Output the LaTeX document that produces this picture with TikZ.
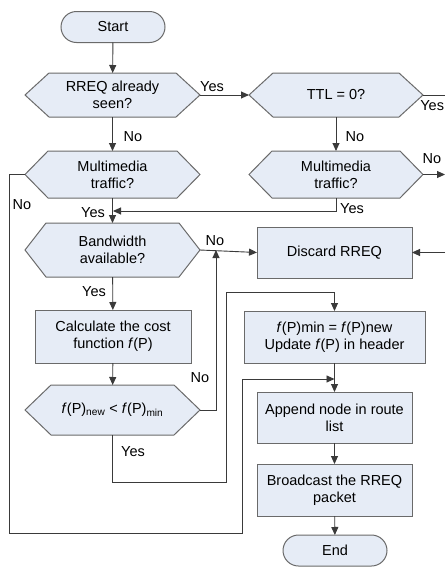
\documentclass[tikz,border=0pt]{standalone}
\usepackage{fontspec}
\setmainfont{Liberation Sans}
\usetikzlibrary{arrows.meta,shapes.misc}
\definecolor{boxfill}{HTML}{E6ECF6}
\definecolor{boxline}{HTML}{6A6A6A}
\definecolor{wire}{HTML}{3A3A3A}
\newcommand{\hexbox}[7]{%
  \path[hexpath] (#2-#4/2,#3) -- (#2-#4/2+#6,#3-#5/2) -- (#2+#4/2-#6,#3-#5/2) -- (#2+#4/2,#3) -- (#2+#4/2-#6,#3+#5/2) -- (#2-#4/2+#6,#3+#5/2) -- cycle;
  \node[hexnode, minimum width=#4pt, minimum height=#5pt] (#1) at (#2,#3) {#7};}
\begin{document}
\begin{tikzpicture}[x=1pt,y=-1pt,
  every node/.style={font=\fontsize{14.5}{17}\selectfont, outer sep=0pt},
  boxnode/.style={draw=boxline, fill=boxfill, line width=1pt, align=center, inner sep=0pt},
  procbox/.style={boxnode, rectangle},
  termbox/.style={boxnode, rounded rectangle},
  hexpath/.style={draw=boxline, fill=boxfill, line width=1pt},
  hexnode/.style={align=center, inner sep=0pt},
  conn/.style={draw=wire, line width=0.9pt},
  arr/.style={conn, -{Triangle[length=8pt,width=7pt]}},
  lbl/.style={inner sep=0pt}
]
\useasboundingbox (0,0) rectangle (445,568);
\clip (0,0) rectangle (445,568);

% nodes
\node[termbox, minimum width=104pt, minimum height=31pt] (start) at (113,27) {Start};
\hexbox{rreq}{112.5}{95}{175}{44}{24}{RREQ already\\seen?}
\hexbox{ttl}{336}{95}{174}{44}{24}{TTL = 0?}
\hexbox{mmA}{112.5}{174.5}{175}{47}{23}{Multimedia\\traffic?}
\hexbox{mmB}{336}{174.5}{174}{47}{23}{Multimedia\\traffic?}
\hexbox{bw}{112.5}{250}{175}{54}{21}{Bandwidth\\available?}
\node[procbox, minimum width=155pt, minimum height=51pt] (disc) at (334.5,252.5) {Discard RREQ};
\node[procbox, minimum width=156pt, minimum height=53pt] (calc) at (113,336.5) {Calculate the cost\\function \textit{f}(P)};
\hexbox{fp}{112.5}{410}{175}{50}{26}{\textit{f}(P)\textsubscript{new} < \textit{f}(P)\textsubscript{min}}
\node[procbox, minimum width=181pt, minimum height=52pt] (fmin) at (334.5,337) {\textit{f}(P)min = \textit{f}(P)new\\Update \textit{f}(P) in header};
\node[procbox, minimum width=155pt, minimum height=51pt] (app) at (334.5,417.5) {Append node in route\\list};
\node[procbox, minimum width=155pt, minimum height=52pt] (bc) at (334.5,490) {Broadcast the RREQ\\packet};
\node[termbox, minimum width=104pt, minimum height=31pt] (end) at (335,550.5) {End};

% helper coordinates
\coordinate (ttlout) at (445,95);
\coordinate (mmBout) at (445,174.5);
\coordinate (discin) at (445,252.5);
\coordinate (mmBturn) at (336,211);
\coordinate (yesjoin) at (113,211);
\coordinate (loopA) at (9,174.5);
\coordinate (loopB) at (9,533);
\coordinate (loopC) at (242,533);
\coordinate (loopD) at (242,379);
\coordinate (merge) at (334.5,379);
\coordinate (fpturn) at (216,410);
\coordinate (nojoin) at (216,250);
\coordinate (yesA) at (112.5,482);
\coordinate (yesB) at (226,482);
\coordinate (yesC) at (226,292);
\coordinate (yesD) at (334.5,292);

% connectors
\draw[arr] (start) -- (rreq);
\draw[arr] (rreq.east) -- (ttl.west);
\draw[conn] (ttl.east) -- (ttlout);
\draw[arr] (rreq) -- (mmA);
\draw[arr] (ttl) -- (mmB);
\draw[arr] (mmB.east) -- (mmBout);
\draw[arr] (mmA) -- (bw);
\draw[arr] (mmB.south) -- (mmBturn) -- (yesjoin);
\draw[arr] (mmA.west) -- (loopA) -- (loopB) -- (loopC) -- (loopD) -- (merge);
\draw[arr] (bw.east) -- (disc.west);
\draw[arr] (discin) -- (disc.east);
\draw[arr] (bw) -- (calc);
\draw[arr] (calc) -- (fp);
\draw[arr] (fp.east) -- (fpturn) -- (nojoin);
\draw[arr] (fp.south) -- (yesA) -- (yesB) -- (yesC) -- (yesD) -- (fmin.north);
\draw[arr] (fmin) -- (app);
\draw[arr] (app) -- (bc);
\draw[arr] (bc) -- (end);

% labels
\node[lbl] (l1) at (212,87) {Yes};
\node[lbl, anchor=east] (l2) at (444,106) {Yes};
\node[lbl] (l3) at (133,137) {No};
\node[lbl] (l4) at (355,137) {No};
\node[lbl] (l5) at (432,159) {No};
\node[lbl] (l6) at (22,205) {No};
\node[lbl] (l7) at (93,213) {Yes};
\node[lbl] (l8) at (352,209) {Yes};
\node[lbl] (l9) at (215,241) {No};
\node[lbl] (l10) at (94,292) {Yes};
\node[lbl] (l11) at (200,378) {No};
\node[lbl] (l12) at (133,452) {Yes};
\end{tikzpicture}
\end{document}
